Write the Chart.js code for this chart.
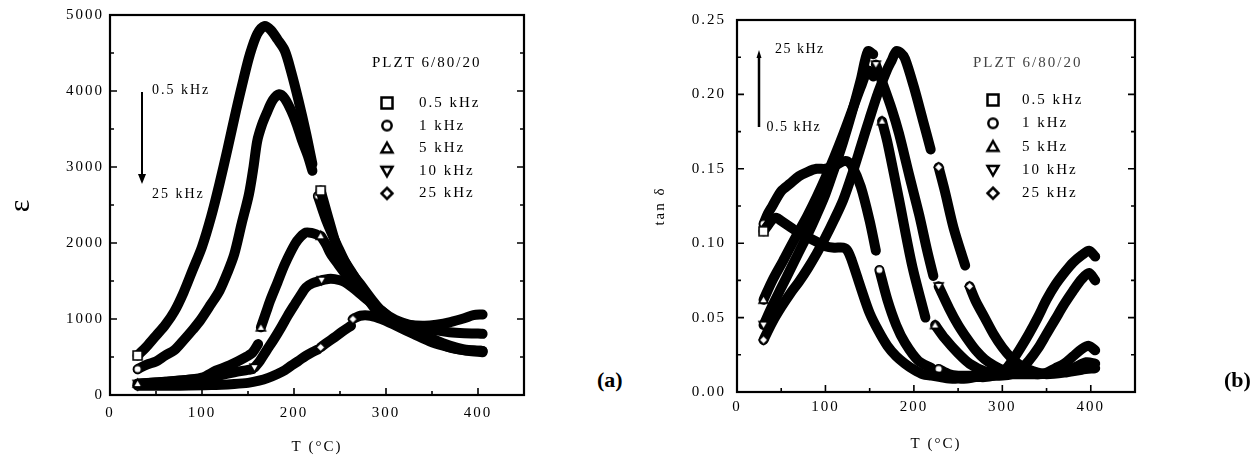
<!DOCTYPE html>
<html><head><meta charset="utf-8">
<script src="https://cdn.jsdelivr.net/npm/chart.js@4.4.0/dist/chart.umd.min.js"></script>
<style>
html,body{margin:0;padding:0;background:#fff;}
body{width:1254px;height:457px;position:relative;overflow:hidden;font-family:"Liberation Serif",serif;}
#wa{position:absolute;left:0;top:0;width:560px;height:457px;}
#wb{position:absolute;left:640px;top:0;width:614px;height:457px;}
.lab{position:absolute;font:bold 22px "Liberation Serif",serif;color:#000;line-height:26px;}
</style></head><body>
<div id="wa"><canvas id="ca"></canvas></div>
<div id="wb"><canvas id="cb"></canvas></div>
<div class="lab" style="left:597px;top:367px">(a)</div>
<div class="lab" style="left:1224px;top:367px">(b)</div>
<script>
// ---------- data: series labels ----------
const seriesLabels = ['0.5 kHz', '1 kHz', '5 kHz', '10 kHz', '25 kHz'];
const legendTitle = 'PLZT 6/80/20';

// ---------- (a) permittivity vs T ----------
const epsT05 = [30,40,50,60,70,80,90,100,110,119,128,137,145,152,160,168,175,182,190,197,205,213,220,224,229,238,248,256,264,275,287,300,311,325,342,355,370,385,395,405];
const eps05  = [520,640,780,920,1100,1350,1650,1950,2350,2780,3250,3740,4150,4480,4750,4855,4800,4680,4530,4250,3870,3450,3040,null,2690,2300,1900,1740,1590,1370,1150,1030,955,920,910,925,960,1010,1050,1060];
const epsT1  = [30,40,50,60,70,80,90,98,110,119,128,135,143,151,156,160,165,170,177,184,190,197,203,209,215,220,223,226,235,248,260,272,285,295,310,330,350,369,385,400,405];
const eps1   = [340,400,440,520,590,720,860,980,1200,1370,1620,1850,2250,2640,3000,3340,3550,3700,3880,3957,3900,3740,3560,3340,3150,2950,null,2620,2300,1940,1650,1460,1250,1110,990,910,860,825,812,810,805];
const epsT5  = [30,50,76,100,115,130,147,155,161,162.5,164,170,174,182,190,201,207,213,220,225,227,229,235,240,248,256,264,272,285,295,310,330,350,369,385,400,405];
const eps5   = [150,165,190,230,320,390,495,560,670,null,890,1100,1240,1480,1720,1985,2080,2138,2130,2110,null,2095,1980,1855,1720,1590,1470,1370,1220,1110,960,846,740,650,600,583,580];
const epsT10 = [30,60,96,120,135,150,155,156,157,163,170,178,186,193,201,207,213,220,228,229,230,240,250,256,264,272,285,295,310,330,350,369,385,400,405];
const eps10  = [145,175,210,260,298,330,342,null,360,450,583,730,890,1040,1196,1310,1415,1470,1500,null,1510,1530,1510,1480,1410,1330,1200,1090,960,846,730,627,590,583,580];
const epsT25 = [30,76,110,135,150,162,172,182,190,197,205,213,220,226,227.5,229,236,244,252,262,263,264,272,283,295,311,330,350,369,389,405];
const eps25  = [123,123,130,145,160,188,225,276,325,386,450,517,565,600,null,627,690,758,830,911,null,999,1043,1043,999,911,802,692,627,583,561];

// ---------- (b) tan delta vs T ----------
const tanT05 = [30,35,40,45,50,55,60,70,80,90,100,110,120,125,130,140,150,160,170,180,190,200,210,220,230,240,250,260,270,280,290,300,310,320,330,340,350,360,370,380,390,398,405];
const tan05  = [0.108,0.112,0.116,0.117,0.115,0.113,0.111,0.107,0.104,0.101,0.098,0.097,0.097,0.095,0.088,0.070,0.053,0.041,0.031,0.024,0.019,0.015,0.012,0.011,0.010,0.009,0.009,0.009,0.010,0.010,0.011,0.013,0.020,0.029,0.039,0.050,0.062,0.072,0.080,0.087,0.092,0.095,0.091];
const tanT1  = [30,35,40,50,60,70,80,90,100,110,120,125,130,140,150,157,159,161,170,180,190,205,220,224,228,240,250,260,270,280,290,300,310,320,330,340,350,360,370,380,390,398,405];
const tan1   = [0.113,0.120,0.125,0.135,0.140,0.145,0.148,0.150,0.150,0.152,0.155,0.155,0.152,0.138,0.115,0.095,null,0.082,0.062,0.045,0.033,0.021,0.016,null,0.0155,0.012,0.011,0.011,0.011,0.011,0.011,0.011,0.012,0.015,0.021,0.029,0.039,0.049,0.059,0.068,0.076,0.080,0.075];
const tanT5  = [30,40,52,60,70,80,90,100,110,120,130,140,148,154,160,164,170,183,198,213,218,224,235,250,263,280,300,320,340,350,360,370,380,390,398,405];
const tan5   = [0.062,0.075,0.088,0.097,0.108,0.119,0.131,0.144,0.158,0.173,0.189,0.205,0.216,0.212,null,0.182,0.168,0.130,0.085,0.050,null,0.045,0.036,0.026,0.019,0.014,0.012,0.012,0.012,0.013,0.016,0.019,0.024,0.029,0.031,0.028];
const tanT10 = [30,40,50,60,70,80,90,100,110,120,130,140,148,154,155.5,157,165,175,183,195,206,215,222,225,228,240,250,260,270,280,290,300,320,340,360,380,395,405];
const tan10  = [0.045,0.058,0.070,0.082,0.094,0.106,0.119,0.133,0.150,0.168,0.188,0.210,0.229,0.227,null,0.220,0.207,0.190,0.174,0.145,0.119,0.095,0.078,null,0.071,0.056,0.045,0.036,0.028,0.022,0.018,0.015,0.013,0.012,0.013,0.016,0.020,0.019];
const tanT25 = [30,40,50,60,70,80,90,100,110,120,130,140,150,160,170,175,180,185,190,200,210,219,223,228,235,245,258,260,263,270,280,290,300,310,320,330,340,350,370,390,405];
const tan25  = [0.035,0.047,0.057,0.066,0.074,0.083,0.093,0.104,0.116,0.129,0.146,0.165,0.184,0.202,0.217,0.223,0.229,0.228,0.224,0.205,0.183,0.163,null,0.151,0.135,0.110,0.085,null,0.071,0.061,0.050,0.039,0.030,0.023,0.018,0.015,0.013,0.012,0.013,0.015,0.016];

// ---------- tick labels ----------
const xTickLabels = ['0','100','200','300','400'];
const epsTickLabels = ['0','1000','2000','3000','4000','5000'];
const tanTickLabels = ['0.00','0.05','0.10','0.15','0.20','0.25'];

// ---------- markers ----------
const markerTypes = ['sq','ci','tu','td','di'];
function makeMarker(type, s, lw) {
  const c = document.createElement('canvas');
  const n = Math.ceil(s + lw * 2 + 2);
  c.width = n; c.height = n;
  const g = c.getContext('2d');
  const m = n / 2, r = s / 2;
  g.lineWidth = lw; g.strokeStyle = '#000'; g.fillStyle = '#fff';
  g.beginPath();
  if (type === 'sq') g.rect(m - r, m - r, s, s);
  else if (type === 'ci') g.arc(m, m, r * 0.85, 0, Math.PI * 2);
  else if (type === 'tu') { g.moveTo(m, m - r); g.lineTo(m + r, m + r * 0.75); g.lineTo(m - r, m + r * 0.75); g.closePath(); }
  else if (type === 'td') { g.moveTo(m, m + r); g.lineTo(m + r, m - r * 0.75); g.lineTo(m - r, m - r * 0.75); g.closePath(); }
  else if (type === 'di') { g.moveTo(m, m - r); g.lineTo(m + r, m); g.lineTo(m, m + r); g.lineTo(m - r, m); g.closePath(); }
  g.fill(); g.stroke();
  return c;
}
const legendMarkers = markerTypes.map(t => makeMarker(t, 11, 2.5));
const dataMarkers = markerTypes.map(t => makeMarker(t, 9, 1.6));

function makeDataset(T, V, i, w) {
  return {
    label: seriesLabels[i],
    data: T.map((t, k) => ({ x: t, y: V[k] })),
    borderColor: '#000',
    backgroundColor: '#000',
    borderWidth: w,
    borderCapStyle: 'round',
    borderJoinStyle: 'round',
    tension: 0.3,
    spanGaps: false,
    fill: false,
    pointStyle: dataMarkers[i],
    pointRadius: ctx => {
      const k = ctx.dataIndex;
      if (V[k] === null) return 0;
      return (k === 0 || V[k - 1] === null) ? 4 : 0;
    },
    pointHoverRadius: 0
  };
}

const FONT = '"Liberation Serif", "DejaVu Serif", serif';

const deco = {
  id: 'deco',
  beforeDraw(chart) { chart.ctx.letterSpacing = '2px'; },
  afterDraw(chart, args, o) {
    const ctx = chart.ctx, a = chart.chartArea, xs = chart.scales.x, ys = chart.scales.y;
    ctx.save();
    ctx.strokeStyle = '#000';
    ctx.lineWidth = 1.6;
    ctx.beginPath();
    xs.ticks.forEach(t => {
      const px = xs.getPixelForValue(t.value);
      const L = t.label !== '' ? 7 : 4;
      ctx.moveTo(px, a.bottom); ctx.lineTo(px, a.bottom - L);
    });
    ys.ticks.forEach(t => {
      const py = ys.getPixelForValue(t.value);
      const L = t.label !== '' ? 7 : 4;
      ctx.moveTo(a.left, py); ctx.lineTo(a.left + L, py);
      ctx.moveTo(a.right, py); ctx.lineTo(a.right - L, py);
    });
    ctx.stroke();
    ctx.lineWidth = 2.2;
    ctx.strokeRect(a.left, a.top, a.right - a.left, a.bottom - a.top);
    ctx.textBaseline = 'middle'; ctx.textAlign = 'left';
    ctx.letterSpacing = '2px';
    ctx.font = '15px ' + FONT;
    ctx.fillStyle = o.titleColor;
    ctx.fillText(legendTitle, o.legTitleX, o.legTitleY);
    ctx.fillStyle = '#000';
    seriesLabels.forEach((lab, i) => {
      const y = o.legY0 + i * o.legDy;
      const img = legendMarkers[i];
      ctx.drawImage(img, o.legMx - img.width / 2, y - img.height / 2);
      ctx.fillText(lab, o.legTx, y);
    });
    const ar = o.arrow;
    ctx.lineWidth = ar.lw;
    ctx.beginPath();
    ctx.moveTo(ar.x, ar.y1); ctx.lineTo(ar.x, ar.y2);
    ctx.stroke();
    ctx.beginPath();
    const dir = ar.head > ar.y1 ? 1 : -1;
    ctx.moveTo(ar.x - ar.hw, ar.head - dir * ar.hl);
    ctx.lineTo(ar.x + ar.hw, ar.head - dir * ar.hl);
    ctx.lineTo(ar.x, ar.head);
    ctx.closePath(); ctx.fill();
    ctx.font = '14px ' + FONT;
    ctx.letterSpacing = o.annLs;
    o.texts.forEach(t => ctx.fillText(t[0], t[1], t[2]));
    ctx.restore();
  }
};

function tickFont() { return { family: FONT, size: 15 }; }

function baseOptions(cfg) {
  return {
    responsive: true,
    maintainAspectRatio: false,
    animation: false,
    events: [],
    layout: { padding: cfg.padding },
    plugins: { legend: { display: false }, tooltip: { enabled: false }, deco: cfg.deco },
    scales: {
      x: {
        type: 'linear', min: 0, max: 450,
        ticks: {
          stepSize: 50, autoSkip: false, maxRotation: 0, color: '#000', font: tickFont(), padding: cfg.xPad,
          callback: v => { const i = xTickLabels.indexOf(String(v)); return i >= 0 ? xTickLabels[i] : ''; }
        },
        grid: { display: false, drawTicks: false },
        border: { display: false },
        title: { display: true, text: 'T (\u00B0C)', color: '#000', font: { family: FONT, size: 15 }, padding: { top: 0, bottom: cfg.xTitlePad } },
        afterFit: s => { s.height = cfg.xH; }
      },
      y: {
        type: 'linear', min: cfg.yMin, max: cfg.yMax,
        ticks: {
          stepSize: cfg.yStep, autoSkip: false, color: '#000', font: tickFont(), padding: cfg.yPad,
          callback: cfg.yCb
        },
        grid: { display: false, drawTicks: false },
        border: { display: false },
        title: { display: true, text: cfg.yTitle, color: '#000', font: { family: FONT, size: cfg.yTitleSize }, padding: { top: cfg.yTitlePad, bottom: 0 } },
        afterFit: s => { s.width = cfg.yW; }
      }
    }
  };
}

new Chart(document.getElementById('ca'), {
  type: 'line',
  data: { datasets: [
    makeDataset(epsT05, eps05, 0, 10), makeDataset(epsT1, eps1, 1, 10), makeDataset(epsT5, eps5, 2, 10),
    makeDataset(epsT10, eps10, 3, 10), makeDataset(epsT25, eps25, 4, 10)
  ] },
  options: baseOptions({
    padding: { left: 0, top: 13.5, right: 36, bottom: 0 },
    xPad: 9, xH: 62, xTitlePad: 1,
    yMin: 0, yMax: 5000, yStep: 500, yPad: 6, yW: 110,
    yCb: v => { const i = epsTickLabels.indexOf(String(v)); return i >= 0 ? epsTickLabels[i] : ''; },
    yTitle: '\u03B5', yTitleSize: 30, yTitlePad: 3,
    deco: {
      titleColor: '#000', legTitleX: 372, legTitleY: 63,
      legMx: 387, legTx: 419, legY0: 103, legDy: 22.6,
      arrow: { x: 142, y1: 92, y2: 176, head: 184, hw: 4, hl: 10, lw: 2 },
      annLs: '2px',
      texts: [['0.5 kHz', 152, 90], ['25 kHz', 152, 194]]
    }
  }),
  plugins: [deco]
});

new Chart(document.getElementById('cb'), {
  type: 'line',
  data: { datasets: [
    makeDataset(tanT05, tan05, 0, 10), makeDataset(tanT1, tan1, 1, 10), makeDataset(tanT5, tan5, 2, 10),
    makeDataset(tanT10, tan10, 3, 10), makeDataset(tanT25, tan25, 4, 10)
  ] },
  options: baseOptions({
    padding: { left: 0, top: 15, right: 119, bottom: 0 },
    xPad: 6.5, xH: 65, xTitlePad: 4,
    yMin: 0, yMax: 0.25, yStep: 0.025, yPad: 11, yW: 97,
    yCb: v => { const t = v.toFixed(2); return (Math.abs(v / 0.05 - Math.round(v / 0.05)) < 1e-6 && tanTickLabels.includes(t)) ? t : ''; },
    yTitle: 'tan \u03B4', yTitleSize: 15, yTitlePad: 11,
    deco: {
      titleColor: '#444', legTitleX: 333, legTitleY: 63,
      legMx: 353, legTx: 382, legY0: 100, legDy: 23.3,
      arrow: { x: 119, y1: 127, y2: 58, head: 50, hw: 2.5, hl: 8, lw: 2.5 },
      annLs: '1.5px',
      texts: [['25 kHz', 135, 49], ['0.5 kHz', 126.5, 127]]
    }
  }),
  plugins: [deco]
});
</script>
</body></html>
